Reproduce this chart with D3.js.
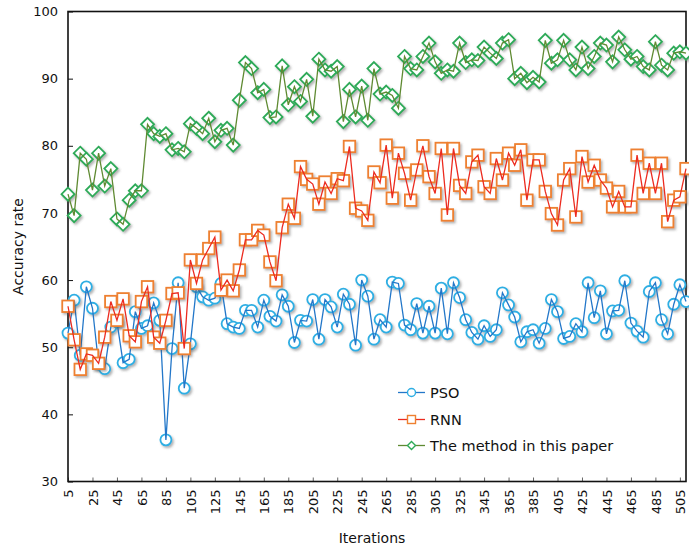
<!DOCTYPE html>
<html>
<head>
<meta charset="utf-8">
<script src="https://cdn.jsdelivr.net/npm/d3@7"></script>
<style>
  html, body { margin: 0; padding: 0; background: #fff; }
  svg { display: block; font-family: "DejaVu Sans", Verdana, sans-serif; }
</style>
</head>
<body>
<svg id="chart" width="689" height="549"></svg>
<script>
// ---- data ----
const iterations = d3.range(5, 515, 5); // category axis 5,10,...,510
const tickLabels = [5,25,45,65,85,105,125,145,165,185,205,225,245,265,285,305,325,345,365,385,405,425,445,465,485,505];
const yTicks = [30,40,50,60,70,80,90,100];

const psoValues = [52.1,57.0,48.8,59.0,55.8,47.5,46.8,53.0,53.8,47.7,48.2,55.3,52.8,53.2,56.6,54.0,36.2,49.8,59.6,43.9,
  50.5,59.0,57.5,57.0,57.3,59.5,53.5,53.0,52.8,55.5,55.5,53.0,57.0,54.6,53.9,57.8,56.1,50.7,54.0,53.9,
  57.1,51.2,57.1,56.0,53.0,57.9,56.4,50.3,60.0,57.6,51.2,54.1,53.0,59.7,59.5,53.3,52.6,56.5,52.1,56.1,
  52.1,58.8,52.0,59.6,57.4,54.1,52.2,51.2,53.2,51.6,52.6,58.1,56.3,54.5,50.8,52.3,52.6,50.6,52.8,57.1,
  55.3,51.3,51.6,53.5,52.3,59.6,54.4,58.4,52.0,55.4,55.5,59.9,53.6,52.4,51.5,58.3,59.6,54.1,52.0,56.4,
  59.3,56.8];
const rnnValues = [56.1,51.1,46.7,49.0,48.8,47.6,51.5,56.8,54.0,57.2,51.7,50.8,56.8,59.0,51.5,50.6,54.0,58.0,58.1,49.8,
  63.0,59.5,63.0,64.7,66.4,58.5,60.0,58.4,61.5,66.0,66.0,67.4,66.7,62.7,59.9,67.8,71.3,69.2,76.9,75.0,
  74.3,71.3,74.6,72.9,75.1,74.8,79.9,70.7,70.3,68.9,76.1,74.5,80.1,72.2,78.9,75.9,71.9,76.4,80.0,75.4,
  72.9,79.6,69.7,79.6,74.1,72.9,77.6,78.6,73.9,72.9,78.1,74.9,78.9,77.1,79.4,71.9,77.9,77.9,73.2,69.9,
  68.2,74.9,76.6,69.4,78.4,74.6,77.1,74.9,73.7,70.9,73.2,70.9,70.9,78.6,72.9,77.4,72.9,77.4,68.7,71.9,
  72.4,76.6];
const methodValues = [72.8,69.6,78.9,78.0,73.4,78.9,74.0,76.6,69.1,68.3,71.9,73.3,73.3,83.2,81.8,81.4,81.8,79.4,79.6,79.1,
  83.3,82.6,81.8,84.1,80.6,82.3,82.6,80.1,86.8,92.4,91.5,87.9,88.4,84.2,84.3,91.9,86.1,88.8,86.6,89.9,
  84.4,92.9,91.3,91.1,91.8,83.6,88.4,84.3,88.9,83.8,91.5,87.7,88.0,87.5,85.6,93.3,91.5,91.3,93.3,95.3,
  92.5,90.8,91.3,91.1,95.3,92.4,92.8,92.7,94.7,93.8,93.0,95.3,95.8,90.0,90.8,89.4,90.2,89.5,95.7,92.3,
  92.8,95.7,92.8,91.3,94.7,91.5,93.3,95.3,95.0,92.5,96.2,94.3,92.9,93.3,91.8,91.3,95.5,92.0,91.3,93.8,
  94.0,93.8];

const seriesNames = ["PSO", "RNN", "The method in this paper"];

// ---- styles ----
const series = [
  {name: seriesNames[0], values: psoValues, line: "#2377c9", mark: "#2eaee3", shape: "circle"},
  {name: seriesNames[1], values: rnnValues, line: "#ec2b1f", mark: "#ee8030", shape: "square"},
  {name: seriesNames[2], values: methodValues, line: "#5f8a32", mark: "#2daa58", shape: "diamond"}
];

const W = 689, H = 549;
const m = {left: 68, right: 3, top: 11.5, bottom: 67.5};
const svg = d3.select("#chart");

const defs = svg.append("defs");
const f = defs.append("filter").attr("id", "shadow").attr("x", "-50%").attr("y", "-50%").attr("width", "200%").attr("height", "200%");
f.append("feDropShadow").attr("dx", 1.6).attr("dy", 1.8).attr("stdDeviation", 1.1)
  .attr("flood-color", "#555").attr("flood-opacity", 0.45);

const x = d3.scaleLinear().domain([5, 510]).range([m.left, W - m.right]);
const y = d3.scaleLinear().domain([30, 100]).range([H - m.bottom, m.top]);

// axes
const xAxis = svg.append("g").attr("transform", `translate(0,${H - m.bottom})`)
  .call(d3.axisBottom(x).tickValues(tickLabels).tickSizeInner(-4).tickSizeOuter(0).tickFormat(d3.format("d")));
xAxis.select(".domain").remove();
xAxis.selectAll(".tick line").attr("stroke", "#666").attr("stroke-width", 1);
xAxis.selectAll(".tick text")
  .attr("transform", "rotate(-90)")
  .attr("x", -8).attr("y", 0).attr("dy", "0.36em")
  .attr("text-anchor", "end")
  .attr("font-size", 13).attr("font-family", "DejaVu Sans, Verdana, sans-serif").attr("fill", "#111");

const yAxis = svg.append("g").attr("transform", `translate(${m.left},0)`)
  .call(d3.axisLeft(y).tickValues(yTicks).tickSizeInner(-5).tickSizeOuter(0));
yAxis.select(".domain").remove();
yAxis.selectAll(".tick line").attr("stroke", "#111").attr("stroke-width", 1);
yAxis.selectAll(".tick text").attr("x", -10).attr("font-size", 13)
  .attr("font-family", "DejaVu Sans, Verdana, sans-serif").attr("fill", "#111");

// frame
svg.append("rect").attr("x", m.left).attr("y", m.top)
  .attr("width", W - m.right - m.left).attr("height", H - m.bottom - m.top)
  .attr("fill", "none").attr("stroke", "#111").attr("stroke-width", 1.6);

// axis titles
svg.append("text").attr("x", 372).attr("y", 543).attr("text-anchor", "middle")
  .attr("font-size", 14).attr("fill", "#111").text("Iterations");
svg.append("text").attr("transform", `translate(23,${(m.top + H - m.bottom) / 2}) rotate(-90)`)
  .attr("text-anchor", "middle").attr("font-size", 14).attr("fill", "#111").text("Accuracy rate");

// marker helper
function drawMarker(g, shape, cx, cy, size, color, sw) {
  if (shape === "circle") {
    g.append("circle").attr("cx", cx).attr("cy", cy).attr("r", size / 2)
      .attr("fill", "#fff").attr("stroke", color).attr("stroke-width", sw);
  } else if (shape === "square") {
    g.append("rect").attr("x", cx - size / 2).attr("y", cy - size / 2).attr("width", size).attr("height", size)
      .attr("fill", "#fff").attr("stroke", color).attr("stroke-width", sw);
  } else {
    const h = size / 2;
    g.append("path").attr("d", `M${cx},${cy - h}L${cx + h},${cy}L${cx},${cy + h}L${cx - h},${cy}Z`)
      .attr("fill", "#fff").attr("stroke", color).attr("stroke-width", sw);
  }
}

const sizes = {circle: 11, square: 11.5, diamond: 13};
const line = d3.line().x((d, i) => x(iterations[i])).y(d => y(d));

series.forEach(s => {
  const g = svg.append("g");
  const mg = g.append("g").attr("filter", "url(#shadow)");
  s.values.forEach((v, i) => drawMarker(mg, s.shape, x(iterations[i]), y(v), sizes[s.shape], s.mark, 1.8));
  g.append("path").datum(s.values).attr("d", line)
    .attr("fill", "none").attr("stroke", s.line).attr("stroke-width", 1.3);
});

// legend
const lg = svg.append("g");
const legendY = [392.5, 419.5, 445.5];
series.forEach((s, k) => {
  const ly = legendY[k];
  lg.append("line").attr("x1", 398).attr("x2", 425).attr("y1", ly).attr("y2", ly)
    .attr("stroke", s.line).attr("stroke-width", 1.3);
  drawMarker(lg, s.shape, 411.5, ly, s.shape === "diamond" ? 8 : 8, s.mark, 1.4);
  lg.append("text").attr("x", 430).attr("y", ly).attr("dy", "0.36em")
    .attr("font-size", 14.5).attr("fill", "#111").text(s.name);
});
</script>
</body>
</html>
